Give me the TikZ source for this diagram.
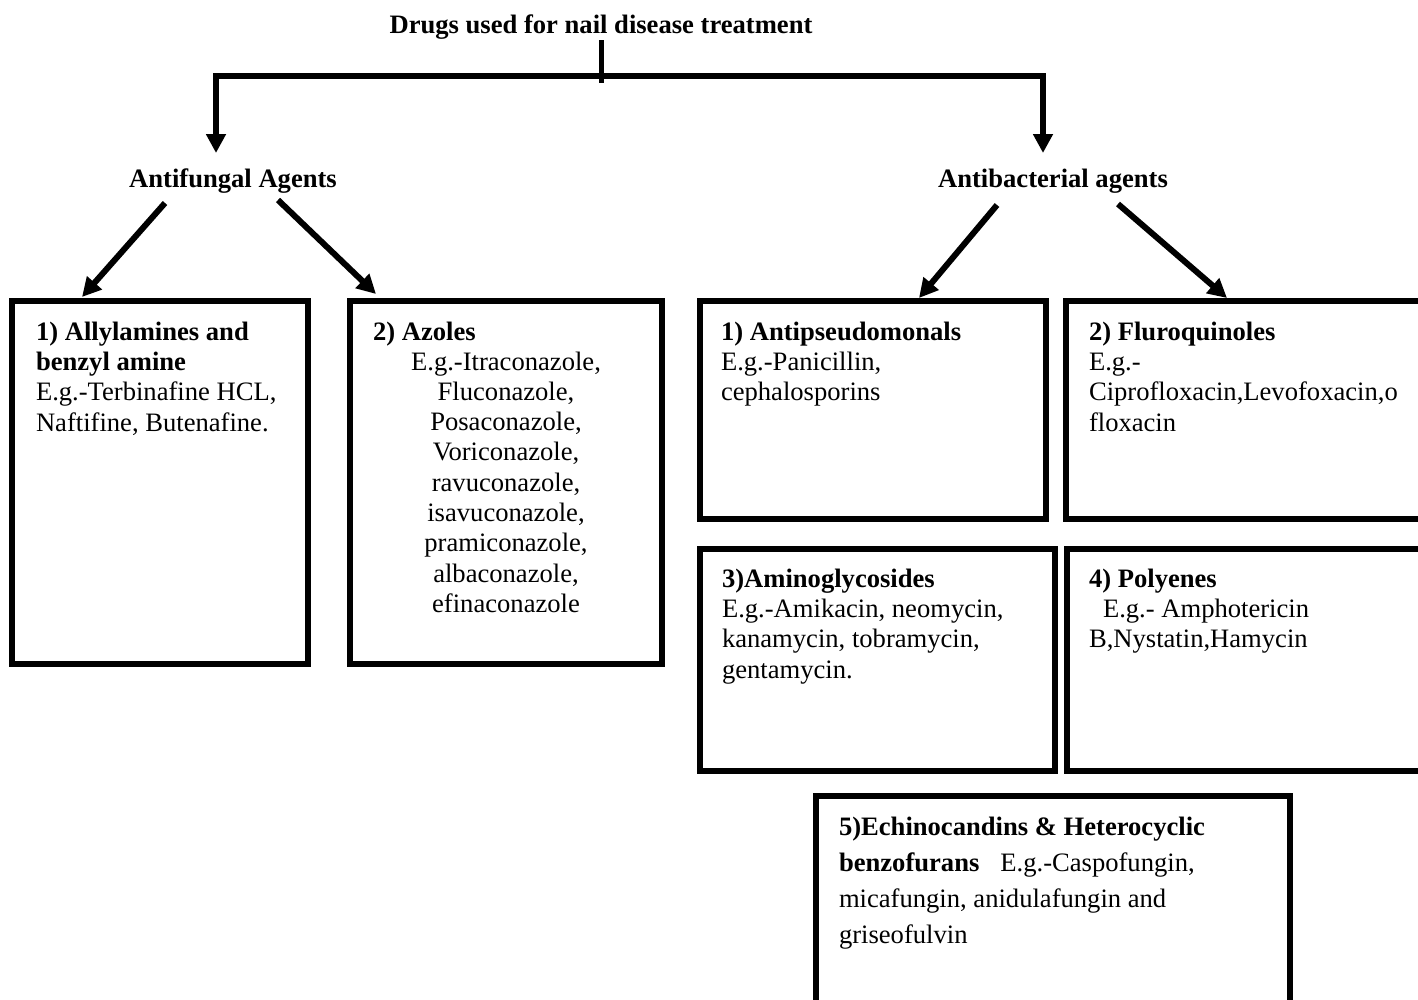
\documentclass[tikz,border=0pt]{standalone}
\usepackage{fontspec}
\setmainfont{Liberation Serif}
\usetikzlibrary{arrows.meta}
\begin{document}
\begin{tikzpicture}[x=1pt,y=-1pt,
  txt/.style={font=\fontsize{26.6}{30.3}\selectfont, inner sep=0pt, outer sep=0pt, align=left},
  btxt/.style={font=\fontsize{26.6}{30.3}\selectfont\bfseries, inner sep=0pt, outer sep=0pt, align=left},
  box/.style={draw, line width=6pt, inner sep=0pt, outer sep=0pt, anchor=north west},
  tickline/.style={line width=5pt},
  tip/.tip={Triangle[width=19pt,length=19pt]},
  arr/.style={line width=6pt, -tip},
  twoarr/.style={line width=6pt, tip-tip},
]
\fill[white] (0,0) rectangle (1418,999);
\useasboundingbox (0,0) rectangle (1418,999);

% titles
\node[btxt, anchor=base] (t) at (601,33) {Drugs used for nail disease treatment};
\node[btxt, anchor=base] (af) at (233,187) {Antifungal Agents};
\node[btxt, anchor=base] (ab) at (1053,187) {Antibacterial agents};

% boxes
\node[box, minimum width=296pt, minimum height=363pt] (b1) at (12,301) {};
\node[box, minimum width=312pt, minimum height=363pt] (b2) at (350,301) {};
\node[box, minimum width=346pt, minimum height=218pt] (b3) at (700,301) {};
\node[box, minimum width=380pt, minimum height=218pt] (b4) at (1066,301) {};
\node[box, minimum width=355pt, minimum height=222pt] (b5) at (700,549) {};
\node[box, minimum width=380pt, minimum height=222pt] (b6) at (1067,549) {};
\node[box, minimum width=474pt, minimum height=240pt] (b7) at (816,796) {};

% box texts (base anchor = baseline of the last line)
\node[txt, anchor=base west] (b1t) at ([shift={(24,130)}]b1.north west)
  {\textbf{1) Allylamines and}\\\textbf{benzyl amine}\\E.g.-Terbinafine HCL,\\Naftifine, Butenafine.};
\node[btxt, anchor=base west] (b2h) at ([shift={(23,39)}]b2.north west) {2) Azoles};
\node[txt, align=center, anchor=base] (b2t) at ([shift={(0,311.4)}]b2.north)
  {E.g.-Itraconazole,\\Fluconazole,\\Posaconazole,\\Voriconazole,\\ravuconazole,\\isavuconazole,\\pramiconazole,\\albaconazole,\\efinaconazole};
\node[txt, anchor=base west] (b3t) at ([shift={(21,99.6)}]b3.north west)
  {\textbf{1) Antipseudomonals}\\E.g.-Panicillin,\\cephalosporins};
\node[txt, anchor=base west] (b4t) at ([shift={(23,130)}]b4.north west)
  {\textbf{2) Fluroquinoles}\\E.g.-\\Ciprofloxacin,Levofoxacin,o\\floxacin};
\node[txt, anchor=base west] (b5t) at ([shift={(22,129)}]b5.north west)
  {\textbf{3)Aminoglycosides}\\E.g.-Amikacin, neomycin,\\kanamycin, tobramycin,\\gentamycin.};
\node[txt, anchor=base west] (b6t) at ([shift={(22,98.6)}]b6.north west)
  {\textbf{4) Polyenes}\\\hspace*{14pt}E.g.- Amphotericin\\B,Nystatin,Hamycin};
\node[txt, font=\fontsize{26.6}{36}\selectfont, anchor=base west] (b7t) at ([shift={(23,147)}]b7.north west)
  {\textbf{5)Echinocandins \& Heterocyclic}\\\textbf{benzofurans}\hspace{21pt}E.g.-Caspofungin,\\micafungin, anidulafungin and\\griseofulvin};

% connectors
\draw[tickline] ([shift={(0,7)}]t.base) -- ++(0,43);
\draw[twoarr] ([shift={(-17,-34)}]af.base) -- ++(0,-77) -- ++(827,0) -- ([shift={(-10,-34)}]ab.base);
\draw[arr] ([shift={(-68,16)}]af.base) -- ([shift={(70,-4)}]b1.north west);
\draw[arr] ([shift={(45,13)}]af.base) -- ([shift={(26,-7)}]b2.north west);
\draw[arr] ([shift={(-56,18)}]ab.base) -- ([shift={(-127,-3)}]b3.north east);
\draw[arr] ([shift={(65,17)}]ab.base) -- ([shift={(161,-3)}]b4.north west);
\end{tikzpicture}
\end{document}
